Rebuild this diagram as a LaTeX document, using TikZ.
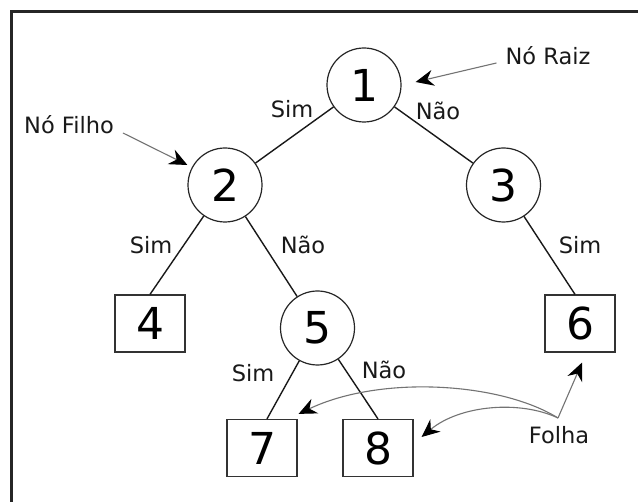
\documentclass[tikz,border=0pt]{standalone}
\usepackage{fontspec}
\setmainfont{DejaVu Sans}
\usetikzlibrary{arrows.meta,calc}
\begin{document}
\begin{tikzpicture}[x=1pt,y=-1pt,
  circnode/.style={circle,draw=black!85,line width=1.2pt,minimum size=74pt,inner sep=0pt,font=\fontsize{44}{44}\selectfont},
  leafnode/.style={rectangle,draw=black!80,line width=1.2pt,minimum width=70pt,minimum height=57pt,inner sep=0pt,font=\fontsize{44}{44}\selectfont},
  edge/.style={draw=black!90,line width=1.4pt},
  lbl/.style={inner sep=0pt,font=\fontsize{22.5}{22.5}\selectfont,text=black!90},
  annot/.style={draw=black!55,line width=1.1pt,-{Stealth[length=18pt,width=16pt,inset=6pt,color=black]}}]
\useasboundingbox (0,0) rectangle (638,502);
\fill[white] (0,0) rectangle (638,502);
% frame (cropped)
\draw[line width=3pt,black!85] (11,502) -- (11,12) -- (638,12);
% nodes
\node[circnode] (c1) at (364,85) {1};
\node[circnode] (c2) at (225,185) {2};
\node[circnode] (c3) at (503.5,185) {3};
\node[circnode] (c5) at (317.5,328) {5};
\node[leafnode] (b4) at (150,323.5) {4};
\node[leafnode] (b6) at (580,323.5) {6};
\node[leafnode] (b7) at (262,448) {7};
\node[leafnode] (b8) at (378,448) {8};
% edges
\draw[edge] (c1) -- (c2);
\draw[edge] (c1) -- (c3);
\draw[edge] (c2) -- (b4.north);
\draw[edge] (c2) -- (c5);
\draw[edge] (c3) -- ($(b6.north)+(-5,0)$);
\draw[edge] (c5) -- ($(b7.north)+(5,0)$);
\draw[edge] (c5) -- (b8.north);
% edge labels
\node[lbl] (l12) at (292,109) {Sim};
\node[lbl] (l13) at (438,111) {Não};
\node[lbl] (l24) at (151,245) {Sim};
\node[lbl] (l25) at (303,245) {Não};
\node[lbl] (l36) at (580,245) {Sim};
\node[lbl] (l57) at (253,373) {Sim};
\node[lbl] (l58) at (384,370) {Não};
% annotations
\node[lbl] (raiz) at (548,56) {Nó Raiz};
\node[lbl] (filho) at (69,125) {Nó Filho};
\node[lbl] (folha) at (559,435) {Folha};
\coordinate (f) at (558,418);
\draw[annot] ($(raiz.west)+(-9,7)$) -- ($(c1.east)+(14,-3)$);
\draw[annot] ($(filho.east)+(9,8)$) -- ($(c2.west)+(0,-20)$);
\draw[annot] (f) -- ($(b6.south)+(2,10)$);
\draw[annot] (f) .. controls (500,382) and (380,375) .. ($(b7.north east)+(1,-5)$);
\draw[annot] (f) .. controls (520,400) and (460,405) .. ($(b8.east)+(8,-11)$);
\end{tikzpicture}
\end{document}
